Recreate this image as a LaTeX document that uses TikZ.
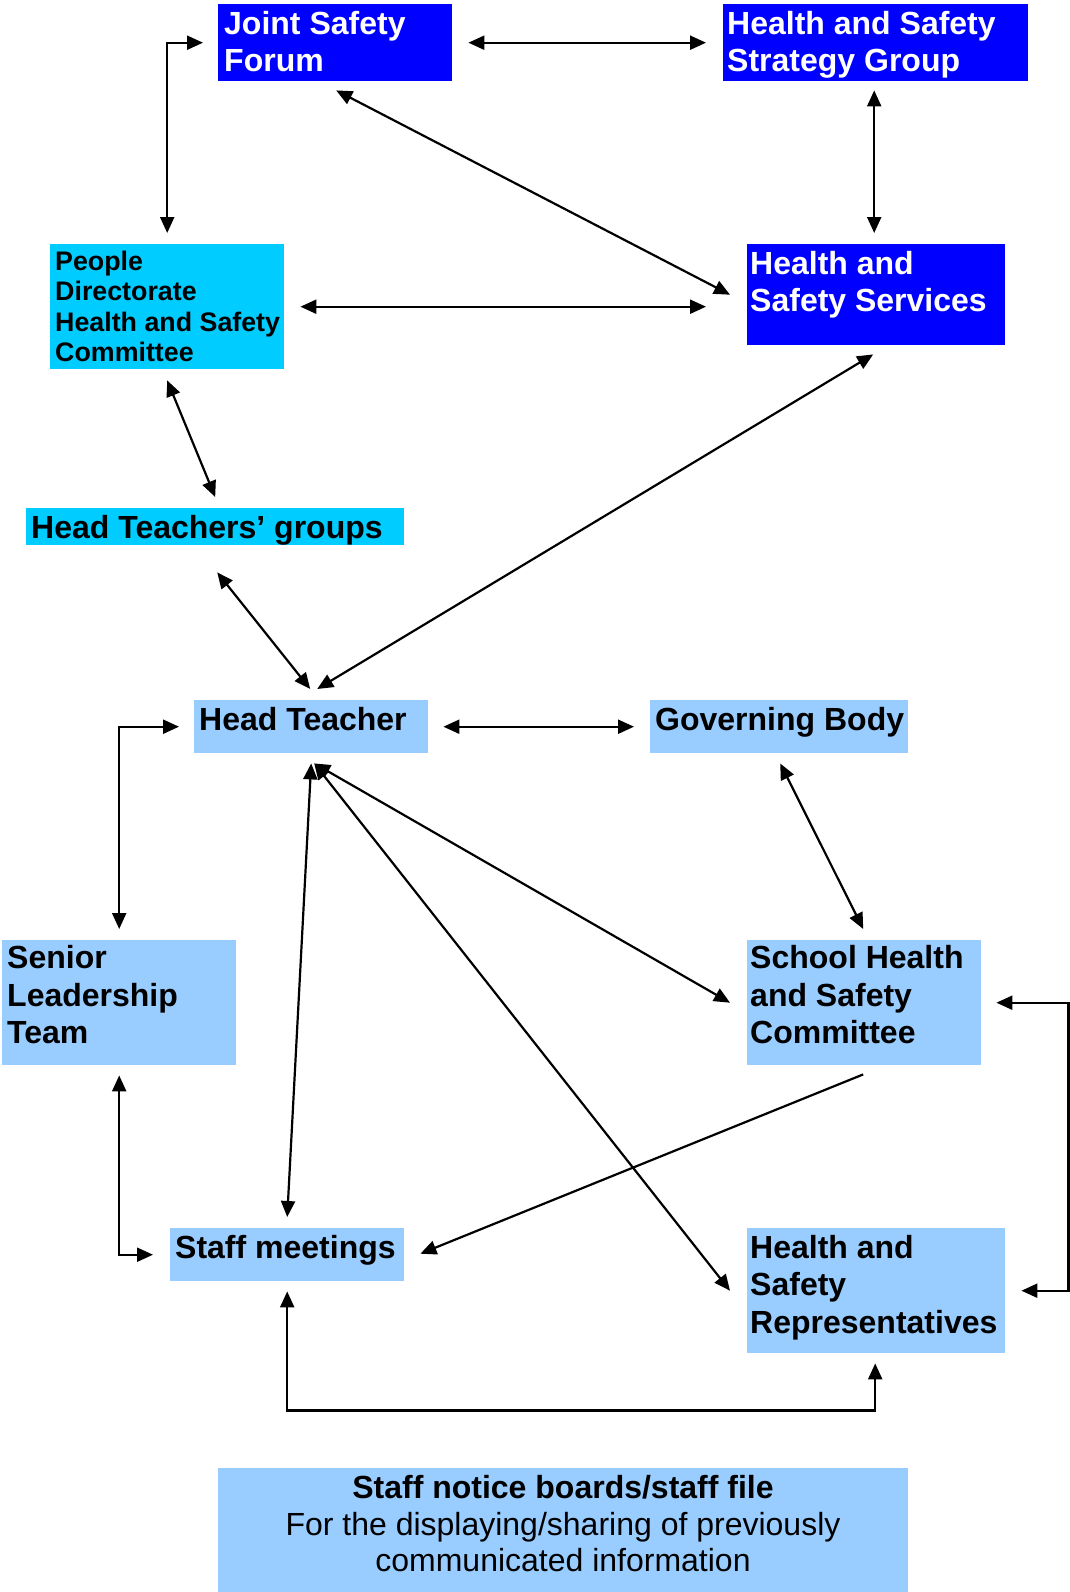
\documentclass[tikz,border=0pt]{standalone}
\usepackage{fontspec}
\setmainfont{Liberation Sans}
\usetikzlibrary{calc,arrows.meta}
\definecolor{dblue}{RGB}{0,0,255}
\definecolor{cyanb}{RGB}{0,204,255}
\definecolor{lblue}{RGB}{153,204,255}
\tikzset{
  bx/.style={draw=none, rectangle, inner sep=0pt, anchor=north west},
  blueb/.style={bx, fill=dblue},
  cyanbox/.style={bx, fill=cyanb},
  lightb/.style={bx, fill=lblue},
  txt/.style={anchor=north west, inner sep=0pt, align=left,
    font=\fontsize{32}{37.5}\selectfont\bfseries, execute at begin node=\strut},
  wtxt/.style={txt, text=white},
  smalltxt/.style={anchor=north west, inner sep=0pt, align=left,
    font=\fontsize{26.8}{30.5}\selectfont\bfseries, execute at begin node=\strut},
  conn/.style={line width=2.2pt, {Triangle[length=16pt,width=14pt]}-{Triangle[length=16pt,width=14pt]}},
  oneway/.style={line width=2.2pt, -{Triangle[length=16pt,width=14pt]}}
}
\begin{document}
\begin{tikzpicture}[x=1pt,y=-1pt]
\useasboundingbox (0,0) rectangle (1070,1592);
% boxes
\node[blueb, minimum width=234pt, minimum height=77pt] (jsf) at (218,4) {};
\node[blueb, minimum width=305pt, minimum height=77pt] (hssg) at (723,4) {};
\node[cyanbox, minimum width=234pt, minimum height=125pt] (pd) at (50,244) {};
\node[blueb, minimum width=258pt, minimum height=101pt] (hss) at (747,244) {};
\node[cyanbox, minimum width=378pt, minimum height=37pt] (htg) at (26,508) {};
\node[lightb, minimum width=234pt, minimum height=53pt] (ht) at (194,700) {};
\node[lightb, minimum width=258pt, minimum height=53pt] (gb) at (650,700) {};
\node[lightb, minimum width=234pt, minimum height=125pt] (slt) at (2,940) {};
\node[lightb, minimum width=234pt, minimum height=125pt] (shsc) at (747,940) {};
\node[lightb, minimum width=234pt, minimum height=53pt] (sm) at (170,1228) {};
\node[lightb, minimum width=258pt, minimum height=125pt] (hsr) at (747,1228) {};
\node[lightb, minimum width=690pt, minimum height=124pt] (notice) at (218,1468) {};
% texts
\node[wtxt] (jsft) at (224,10.75) {Joint Safety\\Forum};
\node[wtxt] (hssgt) at (727,10.75) {Health and Safety\\Strategy Group};
\node[smalltxt] (pdt) at (55,250.65) {People\\Directorate\\Health and Safety\\Committee};
\node[wtxt] (hsst) at (750,250.75) {Health and\\Safety Services};
\node[txt] (htgt) at (31,511.75) {Head Teachers’ groups};
\node[txt] (htt) at (199,703.75) {Head Teacher};
\node[txt] (gbt) at (655,703.75) {Governing Body};
\node[txt] (sltt) at (7,945.5) {Senior\\Leadership\\Team};
\node[txt] (shsct) at (750,945.5) {School Health\\and Safety\\Committee};
\node[txt] (smt) at (175,1231.75) {Staff meetings};
\node[txt] (hsrt) at (750,1234.75) {Health and\\Safety\\Representatives};
\node[anchor=north, inner sep=0pt, align=center, font=\fontsize{32}{36.5}\selectfont, execute at begin node=\strut] (noticet) at (563,1475.2) {\textbf{Staff notice boards/staff file}\\For the displaying/sharing of previously\\communicated information};
% connectors
\draw[conn] ($(jsf.east)+(16,0)$) -- ($(hssg.west)+(-17,0)$);
\draw[conn] ($(jsf.west)+(-15,0)$) -| ($(pd.north)+(0,-11)$);
\draw[conn] ($(jsf.south)+(1,9)$) -- ($(hss.west)+(-17,0)$);
\draw[conn] ($(hssg.south)+(-1.5,9)$) -- ($(hss.north)+(-2,-11)$);
\draw[conn] ($(pd.east)+(16,0)$) -- ($(hss.west)+(-41,12)$);
\draw[conn] ($(pd.south)+(0,11)$) -- ($(htg.north)+(0,-11)$);
\draw[conn] ($(hss.south)+(-3,9)$) -- ($(ht.north)+(6,-11)$);
\draw[conn] ($(htg.south)+(2,27)$) -- ($(ht.north)+(-1,-11)$);
\draw[conn] ($(ht.east)+(15,0)$) -- ($(gb.west)+(-16,0)$);
\draw[conn] ($(ht.west)+(-15,0)$) -| ($(slt.north)+(0,-11)$);
\draw[conn] ($(gb.south)+(1,10)$) -- ($(shsc.north)+(-1,-11)$);
\draw[conn] ($(ht.south)+(3,10)$) -- ($(shsc.west)+(-17,0)$);
\draw[conn] ($(ht.south)+(0,10)$) -- ($(sm.north)+(0,-11)$);
\draw[conn] ($(ht.south)+(3,10)$) -- ($(hsr.west)+(-17,0)$);
\draw[oneway] ($(shsc.south)+(-1,9)$) -- ($(sm.east)+(16,-1)$);
\draw[conn] ($(shsc.east)+(15,0)$) -- ($(shsc.east)+(87,0)$) |- ($(hsr.east)+(16,0)$);
\draw[conn] ($(slt.south)+(0,10)$) |- ($(sm.west)+(-17,0)$);
\draw[conn] ($(sm.south)+(0,10)$) -- ($(sm.south)+(0,129)$) -| ($(hsr.south)+(-1,10)$);
\end{tikzpicture}
\end{document}
